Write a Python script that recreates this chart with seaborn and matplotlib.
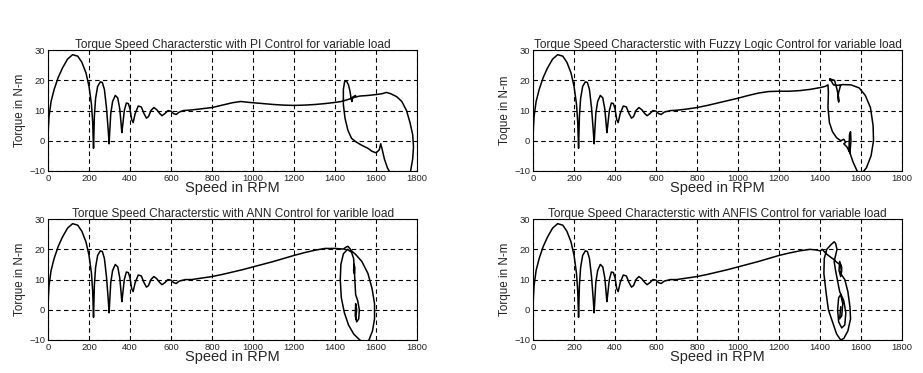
import numpy as np
import pandas as pd
import matplotlib
matplotlib.use("Agg")
import matplotlib.pyplot as plt
import seaborn as sns

sns.set_style("white")
plt.rcParams['font.family'] = ['Liberation Sans', 'DejaVu Sans']

# start-up part, same for all four controllers (speed rpm, torque N-m)
start_speed = [0, 5, 15, 30, 50, 70, 95, 120, 145, 165, 185, 200, 212, 218, 222, 226, 232,
               242, 255, 265, 275, 285, 293, 298, 301, 306, 315, 328, 340, 350, 356, 360,
               364, 372, 382, 392, 400, 408, 415, 425, 440, 455, 468, 480, 490, 502, 516,
               530, 545, 556, 570, 585, 600, 612, 625]
start_torque = [2, 8, 13, 17, 21, 24, 27, 28.5, 28, 26, 22.5, 18, 12, 6, -2.5, 8, 14,
                18, 19.5, 19.3, 17, 11, 4, -1, 3, 9, 13, 15, 14.2, 10.5, 6, 2.7,
                5, 10, 12.5, 12.3, 10.5, 7, 6, 9, 11.5, 11.2, 9, 7.5, 8, 10, 11,
                10.3, 9, 8.3, 9, 10, 9.8, 9, 8.7]

# PI control tail
pi_speed = [640, 660, 700, 750, 800, 850, 900, 940, 980, 1050, 1100, 1150, 1200, 1250, 1300,
            1350, 1400, 1430, 1460, 1490, 1520, 1560, 1600, 1630, 1650, 1670, 1700, 1725,
            1748, 1765, 1778, 1782, 1778, 1768, 1755, 1720, 1680, 1655, 1640, 1628, 1622,
            1615, 1600, 1580, 1560, 1530, 1500, 1480, 1462, 1448, 1440, 1440, 1446, 1455,
            1465, 1472, 1478, 1482, 1486, 1500]
pi_torque = [9.5, 10, 10.2, 10.6, 11, 11.8, 12.6, 13, 12.7, 12.3, 12, 11.8, 11.7, 11.8, 12,
             12.3, 12.7, 13, 13.6, 14.3, 14.8, 15, 15.3, 15.6, 16, 15.6, 14.6, 13,
             10, 6, 2, -2, -6, -10, -13, -14, -12, -9, -6, -2.5, -1,
             -3, -4, -3.5, -2.5, -1.5, -0.3, 0.8, 3.5, 7.5, 12, 17, 19.5, 19.8,
             18.5, 16.5, 14, 13, 14.5, 15]

# fuzzy logic control tail
flc_speed = [640, 670, 700, 750, 800, 850, 900, 950, 1000, 1050, 1100, 1150, 1200, 1250, 1300,
             1350, 1400, 1425, 1438, 1440, 1438, 1445, 1460, 1480, 1500, 1515, 1525, 1515,
             1530, 1545, 1550, 1548, 1543, 1540, 1560, 1580, 1600, 1625, 1648, 1660, 1658,
             1645, 1620, 1590, 1550, 1510, 1480, 1465, 1452, 1446, 1450, 1470, 1482, 1488,
             1492, 1490, 1486, 1490, 1500]
flc_torque = [9.5, 10, 10.1, 10.5, 11, 11.7, 12.5, 13.3, 14.1, 15, 15.8, 16.3, 16.4, 16.4, 16.6,
              17, 17.6, 18, 18.5, 16, 11, 6, 3, 1, 0, 0.5, -0.5, -1,
              -2, -4, 0, 3, 2, -3, -7, -10, -11, -9, -5, 0, 5,
              11, 15, 17.5, 18.5, 18.6, 18.3, 18.5, 20, 20.5, 20.4, 20, 17, 15,
              13.5, 12.8, 14, 16, 18.5]

# ANN control tail
ann_speed = [640, 670, 700, 750, 800, 850, 900, 950, 1000, 1050, 1100, 1150, 1200, 1250, 1300,
             1350, 1400, 1440, 1455, 1462, 1470, 1480, 1500, 1530, 1560, 1580, 1592, 1592,
             1582, 1565, 1545, 1520, 1490, 1465, 1445, 1430, 1425, 1428, 1440, 1460, 1480,
             1490, 1492, 1496, 1494, 1490, 1492, 1500, 1510, 1518, 1515, 1505, 1498, 1500,
             1505, 1500]
ann_torque = [9.5, 10, 10, 10.5, 11, 11.7, 12.5, 13.3, 14.2, 15.1, 16, 17, 18, 18.9, 19.7,
              20.3, 20.3, 20.1, 20.8, 21, 20.4, 19.5, 18.3, 16, 12, 7, 2, -3,
              -7, -10, -11, -10, -8, -5, -1, 4, 10, 15, 18.5, 20, 19,
              17, 15, 14, 12, 13, 15, 5, 3, 0, -3, -4, -2, 2,
              0, -3]

# ANFIS control tail
anfis_speed = [640, 670, 700, 750, 800, 850, 900, 950, 1000, 1050, 1100, 1150, 1200, 1250,
               1300, 1350, 1380, 1400, 1410, 1430, 1455, 1470, 1476, 1485, 1498, 1505, 1500,
               1492, 1495, 1505, 1500, 1520, 1535, 1545, 1548, 1535, 1515, 1500, 1480, 1460,
               1440, 1430, 1418, 1420, 1432, 1452, 1468, 1475, 1482, 1475, 1468, 1475,
               1495, 1515, 1525, 1520, 1505, 1490, 1485, 1490, 1500, 1510, 1505, 1495, 1500]
anfis_torque = [9.5, 10, 10, 10.5, 11, 11.7, 12.5, 13.3, 14.2, 15.1, 16, 17, 18, 18.8,
                19.5, 20, 19.8, 19.5, 20, 18.5, 17.2, 16.5, 16, 15.5, 15, 13, 11,
                13, 16, 14, 12, 10, 6, 1, -3, -7, -9.5, -10, -8, -4,
                0, 5, 12, 17, 20, 21.5, 22.5, 22, 20, 18, 16, 13,
                6, 3, -1, -5, -6, -4, 0, 4, 5, 2, -2, -3, 1]

panels = [
    ("Torque Speed Characterstic with PI Control for variable load", pi_speed, pi_torque, "Torque in N-m"),
    ("Torque Speed Characterstic with Fuzzy Logic Control for variable load", flc_speed, flc_torque, "Toque in N-m"),
    ("Torque Speed Characterstic with ANN Control for varible load", ann_speed, ann_torque, "Torque in N-m"),
    ("Torque Speed Characterstic with ANFIS Control for variable load", anfis_speed, anfis_torque, "Torque in N-m"),
]

fig = plt.figure(figsize=(9.23, 3.73), dpi=100)
positions = [[0.052, 0.5416, 0.400, 0.324],
             [0.5775, 0.5416, 0.400, 0.324],
             [0.052, 0.0885, 0.400, 0.324],
             [0.5775, 0.0885, 0.400, 0.324]]

for pos, (title, sp, tq, ylab) in zip(positions, panels):
    ax = fig.add_axes(pos)
    df = pd.DataFrame({"speed": start_speed + sp, "torque": start_torque + tq})
    sns.lineplot(data=df, x="speed", y="torque", sort=False, estimator=None,
                 color="black", linewidth=1.1, ax=ax)
    ax.set_xlim(0, 1800)
    ax.set_ylim(-10, 30)
    ax.set_xticks(np.arange(0, 1801, 200))
    ax.set_yticks([-10, 0, 10, 20, 30])
    ax.grid(True, color="black", linestyle=(0, (4, 3)), linewidth=0.8)
    ax.tick_params(direction="in", length=3, labelsize=6.8, pad=2, color="black")
    for s in ax.spines.values():
        s.set_color("black")
        s.set_linewidth(0.8)
    ax.set_title(title, fontsize=8.6, pad=1.5)
    ax.set_xlabel("Speed in RPM", fontsize=10.5, labelpad=-1)
    ax.set_ylabel(ylab, fontsize=8.4, labelpad=2)

fig.savefig("out.png", dpi=100)
